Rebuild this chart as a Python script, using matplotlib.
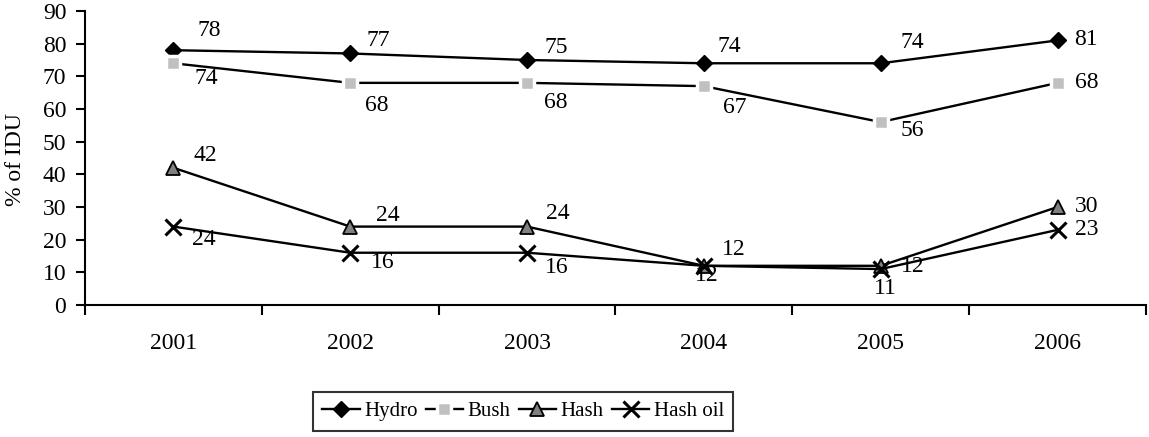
import matplotlib
matplotlib.use("Agg")
import matplotlib.pyplot as plt
from matplotlib.ticker import FixedLocator, NullFormatter

plt.rcParams['font.family'] = ['Liberation Serif', 'DejaVu Serif']

years = ['2001', '2002', '2003', '2004', '2005', '2006']
hydro = [78, 77, 75, 74, 74, 81]
bush = [74, 68, 68, 67, 56, 68]
hash_ = [42, 24, 24, 12, 12, 30]
hash_oil = [24, 16, 16, 12, 11, 23]

# label offsets in pixels (dx, dy)
off_hydro = [(36, 20), (28, 13), (29, 12), (25, 17), (32, 21), (28, 1)]
off_bush = [(33, -15), (26, -23), (29, -20), (31, -21), (32, -8), (29, 0)]
off_hash = [(32, 12), (38, 11), (31, 13), (30, 16), (32, -1), (29, 0)]
off_oil = [(30, -13), (32, -10), (30, -15), (3, -10), (5, -19), (29, 0)]

fig = plt.figure(figsize=(11.49, 4.37), dpi=100)
ax = fig.add_axes([85/1149, 1-305/437, (1146-85)/1149, (305-11)/437])

x = list(range(len(years)))
fs = 17
lw = 1.7

ax.plot(x, hydro, color='black', lw=lw, marker='D', ms=8, mfc='black', mec='black', label='Hydro', zorder=3)
ax.plot(x, bush, color='black', lw=lw, marker='s', ms=10.5, mfc='#c0c0c0', mec='white', mew=2.5, label='Bush', zorder=3)
ax.plot(x, hash_, color='black', lw=lw, marker='^', ms=10, mfc='#808080', mec='black', mew=1.3, label='Hash', zorder=3)
ax.plot(x, hash_oil, color='black', lw=lw, marker='x', ms=11, mec='black', mew=2.2, label='Hash oil', zorder=4)

for series, offs in [(hydro, off_hydro), (bush, off_bush), (hash_, off_hash), (hash_oil, off_oil)]:
    for xi, v, (dx, dy) in zip(x, series, offs):
        ax.annotate(str(v), (xi, v), xytext=(dx, dy), textcoords='offset pixels',
                    ha='center', va='center', fontsize=fs, zorder=5)

ax.set_xlim(-0.5, 5.5)
ax.set_ylim(0, 90)
ax.set_yticks(range(0, 91, 10))
ax.tick_params(axis='y', direction='out', length=6.5, width=1.5, labelsize=fs, pad=7)
ax.xaxis.set_major_locator(FixedLocator([i - 0.5 for i in range(7)]))
ax.xaxis.set_major_formatter(NullFormatter())
ax.xaxis.set_minor_locator(FixedLocator(x))
ax.set_xticklabels(years, minor=True)
ax.tick_params(axis='x', which='major', direction='out', length=7, width=1.5)
ax.tick_params(axis='x', which='minor', length=0, labelsize=fs, pad=20)

for s in ['top', 'right']:
    ax.spines[s].set_visible(False)
for s in ['left', 'bottom']:
    ax.spines[s].set_linewidth(1.5)

fig.text(16/1149, 1-159/437, '% of IDU', rotation=90, ha='center', va='center', fontsize=fs)

handles, labels = ax.get_legend_handles_labels()
lfs = 15
leg = fig.legend(handles, labels, loc='center', bbox_to_anchor=(523/1149, 1-411.5/437),
                 ncol=4, frameon=True, fancybox=False, fontsize=lfs, handlelength=1.8,
                 handletextpad=0.2, columnspacing=0.4, borderpad=0.45, borderaxespad=0)
leg.get_frame().set_edgecolor('black')
leg.get_frame().set_linewidth(1.5)

fig.savefig('out.png', dpi=100)
